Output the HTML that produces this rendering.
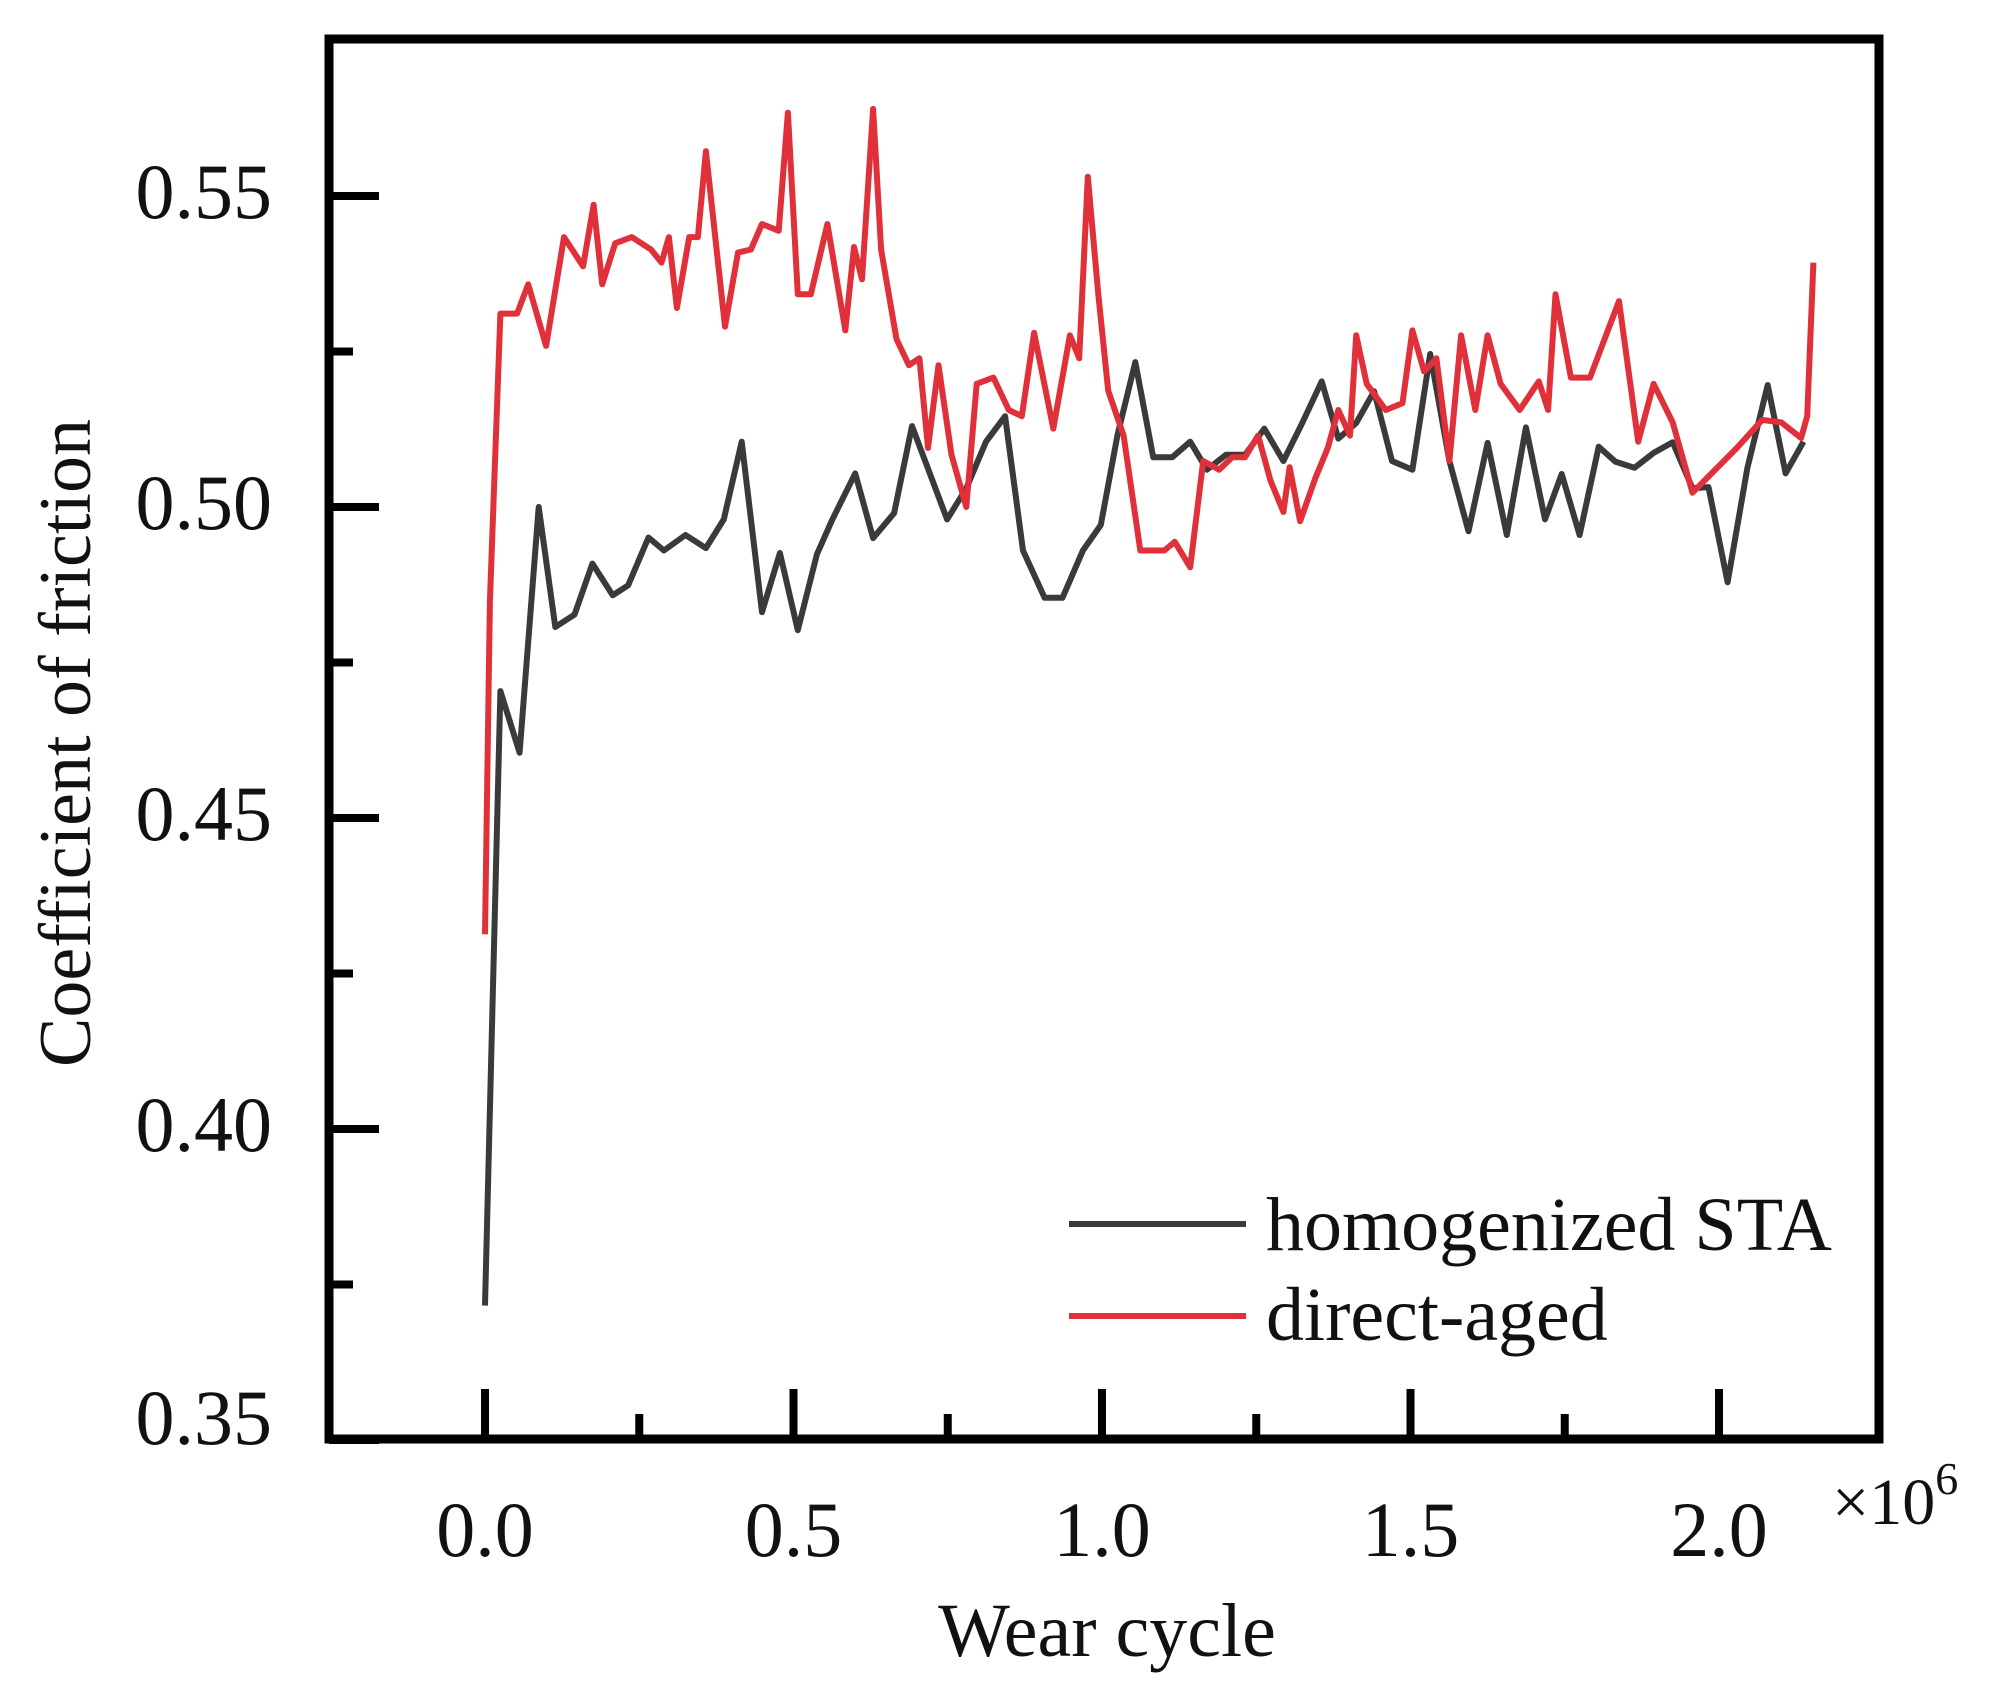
<!DOCTYPE html>
<html><head><meta charset="utf-8"><style>
html,body{margin:0;padding:0;background:#fff;}
svg{display:block;}
text{font-family:"Liberation Serif","Times New Roman",serif;fill:#111;}
</style></head>
<body>
<svg id="chart" width="2002" height="1694" viewBox="0 0 2002 1694" xmlns="http://www.w3.org/2000/svg">
<g id="series"></g>
<g id="axes"></g>
<g>
  <line x1="1069" y1="1224" x2="1246" y2="1224" stroke="#3a3a3a" stroke-width="6"/>
  <text x="1266" y="1250" font-size="76">homogenized STA</text>
  <line x1="1069" y1="1316" x2="1246" y2="1316" stroke="#e0313a" stroke-width="6"/>
  <text x="1266" y="1340" font-size="76">direct-aged</text>
</g>
<text x="1107" y="1656" font-size="76" text-anchor="middle">Wear cycle</text>
<text transform="translate(90,743) rotate(-90)" font-size="74" text-anchor="middle">Coefficient of friction</text>
<text x="1832" y="1524" font-size="66">×10<tspan font-size="46" dy="-30">6</tspan></text>
</svg>
<script>
const xTickValues=[0,0.5,1.0,1.5,2.0];
const xTickLabels=["0.0","0.5","1.0","1.5","2.0"];
const xMinorValues=[0.25,0.75,1.25,1.75];
const yTickValues=[0.35,0.40,0.45,0.50,0.55];
const yTickLabels=["0.35","0.40","0.45","0.50","0.55"];
const yMinorValues=[0.375,0.425,0.475,0.525];
const stdX=[0,0.025,0.056,0.087,0.114,0.145,0.174,0.207,0.232,0.265,0.29,0.325,0.358,0.387,0.416,0.449,0.478,0.507,0.538,0.563,0.60,0.629,0.663,0.692,0.749,0.780,0.812,0.843,0.872,0.907,0.936,0.969,0.998,1.025,1.054,1.083,1.114,1.143,1.170,1.201,1.232,1.263,1.294,1.325,1.356,1.383,1.412,1.441,1.470,1.503,1.532,1.563,1.594,1.625,1.656,1.687,1.718,1.745,1.774,1.805,1.832,1.863,1.894,1.925,1.957,1.983,2.014,2.046,2.079,2.108,2.137];
const stdY=[0.3716,0.4704,0.4605,0.500,0.4807,0.4827,0.4909,0.4858,0.4874,0.4951,0.493,0.4955,0.4934,0.498,0.5105,0.4831,0.4926,0.4802,0.4924,0.498,0.5054,0.495,0.499,0.513,0.498,0.503,0.5105,0.5146,0.493,0.4854,0.4854,0.493,0.4971,0.5115,0.5233,0.508,0.508,0.5105,0.506,0.5084,0.5084,0.5126,0.5074,0.5136,0.5202,0.5110,0.5135,0.5186,0.5074,0.506,0.5246,0.5074,0.4961,0.5103,0.4955,0.5128,0.498,0.5053,0.4955,0.5097,0.5073,0.5063,0.5087,0.5104,0.503,0.5032,0.4879,0.5063,0.5196,0.5054,0.5105];
const daX=[0,0.008,0.025,0.052,0.070,0.099,0.128,0.159,0.176,0.19,0.211,0.238,0.269,0.286,0.298,0.311,0.331,0.345,0.358,0.389,0.410,0.431,0.449,0.476,0.491,0.507,0.528,0.555,0.584,0.598,0.611,0.629,0.642,0.667,0.687,0.704,0.718,0.735,0.756,0.780,0.797,0.824,0.849,0.87,0.89,0.921,0.948,0.963,0.977,0.994,1.010,1.035,1.062,1.101,1.118,1.143,1.164,1.190,1.211,1.232,1.253,1.273,1.294,1.304,1.321,1.346,1.366,1.383,1.402,1.412,1.429,1.460,1.487,1.503,1.522,1.542,1.563,1.582,1.605,1.625,1.646,1.677,1.708,1.723,1.735,1.760,1.791,1.838,1.869,1.894,1.925,1.957,1.988,2.029,2.070,2.101,2.133,2.143,2.153];
const daY=[0.4313,0.4848,0.5311,0.5311,0.5358,0.5259,0.5434,0.5387,0.5486,0.5358,0.5424,0.5434,0.5414,0.5393,0.5434,0.532,0.5434,0.5434,0.5572,0.529,0.5409,0.5414,0.5455,0.5444,0.5634,0.5342,0.5342,0.5455,0.5284,0.5418,0.5366,0.564,0.5414,0.527,0.5228,0.5239,0.5095,0.5228,0.5084,0.500,0.5198,0.5208,0.5156,0.5146,0.528,0.5126,0.5276,0.5239,0.5531,0.5342,0.5187,0.5115,0.493,0.493,0.4944,0.4903,0.5074,0.506,0.508,0.508,0.5115,0.5043,0.4992,0.5064,0.4977,0.5047,0.5095,0.5156,0.5115,0.5276,0.5198,0.5156,0.5167,0.5284,0.5218,0.5239,0.5074,0.5276,0.5156,0.5276,0.5198,0.5156,0.5202,0.5156,0.5342,0.5208,0.5208,0.5331,0.5105,0.5198,0.5136,0.5023,0.5054,0.5095,0.514,0.5136,0.5111,0.5146,0.5393];

const NS="http://www.w3.org/2000/svg";
const X0=329,X1=1879,Y0=39,Y1=1439;
function xs(v){return 485+v*617;}
function ys(v){return 507-(v-0.5)/0.05*311;}
function mk(tag,attrs,parent){const e=document.createElementNS(NS,tag);for(const k in attrs)e.setAttribute(k,attrs[k]);parent.appendChild(e);return e;}
const axes=document.getElementById('axes');
const series=document.getElementById('series');

function drawLine(xv,yv,color,name){
  let d="";
  for(let i=0;i<xv.length;i++){d+=(i?"L":"M")+xs(xv[i]).toFixed(1)+","+ys(yv[i]).toFixed(1);}
  const p=mk('path',{d:d,fill:'none',stroke:color,'stroke-width':6,'stroke-linejoin':'round'},series);
  
  
}
drawLine(stdX,stdY,'#3a3a3a','line-homogenized-sta');
drawLine(daX,daY,'#e0313a','line-direct-aged');

const frame=mk('rect',{x:X0,y:Y0,width:X1-X0,height:Y1-Y0,fill:'none',stroke:'#000','stroke-width':9},axes);



xTickValues.forEach((v,i)=>{
  const x=xs(v);
  const t=mk('line',{x1:x,y1:Y1,x2:x,y2:Y1-50,stroke:'#000','stroke-width':8},axes);
  
  
  const l=mk('text',{x:x,y:1556,'font-size':78,'text-anchor':'middle'},axes);
  l.textContent=xTickLabels[i];
  
  
});
xMinorValues.forEach(v=>{
  const x=xs(v);
  const t=mk('line',{x1:x,y1:Y1,x2:x,y2:Y1-25,stroke:'#000','stroke-width':8},axes);
  
  
});
yTickValues.forEach((v,i)=>{
  const y=ys(v);
  const t=mk('line',{x1:X0,y1:y,x2:X0+50,y2:y,stroke:'#000','stroke-width':8},axes);
  
  
  const l=mk('text',{x:272,y:y+(i===0?4:22),'font-size':78,'text-anchor':'end'},axes);
  l.textContent=yTickLabels[i];
  
  
});
yMinorValues.forEach(v=>{
  const y=ys(v);
  const t=mk('line',{x1:X0,y1:y,x2:X0+24,y2:y,stroke:'#000','stroke-width':8},axes);
  
  
});
</script>
</body></html>
